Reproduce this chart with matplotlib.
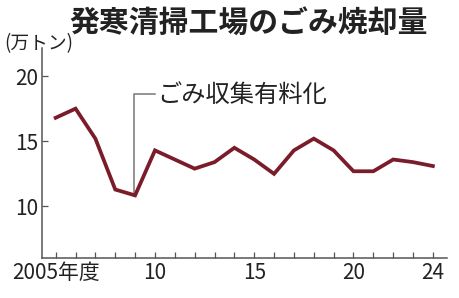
import matplotlib
matplotlib.use("Agg")
import matplotlib.pyplot as plt

plt.rcParams['font.family'] = ['Noto Sans CJK JP', 'DejaVu Sans']

# データ（万トン）
years = list(range(2005, 2025))
amounts = [16.8, 17.5, 15.2, 11.3, 10.85, 14.3, 13.6, 12.9, 13.4, 14.5,
           13.6, 12.5, 14.3, 15.2, 14.3, 12.7, 12.7, 13.6, 13.4, 13.1]
tick_years = [2005, 2010, 2015, 2020, 2024]
tick_labels = ['2005年度', '10', '15', '20', '24']
y_ticks = [10, 15, 20]
event_year = 2009
event_label = 'ごみ収集有料化'

fig = plt.figure(figsize=(4.6, 2.98), dpi=100)
ax = fig.add_axes([0.0913, 0.1342, 0.8804, 0.7048])

ax.plot(years, amounts, color='#7b1c2a', lw=2.7, solid_joinstyle='miter', zorder=3)

ax.set_xlim(2004.31, 2024.71)
ax.set_ylim(6.05, 22.15)

for s in ['top', 'right']:
    ax.spines[s].set_visible(False)
for s in ['left', 'bottom']:
    ax.spines[s].set_color('#555555')
    ax.spines[s].set_linewidth(1.1)

ax.set_xticks(years, minor=True)
ax.set_xticks(tick_years)
ax.set_xticklabels(tick_labels)
ax.set_yticks(y_ticks)
ax.tick_params(which='both', direction='in', length=4.5, width=0.9,
               color='#555555', labelsize=15, labelcolor='#222222')
ax.tick_params(axis='x', pad=3)
ax.tick_params(axis='y', pad=3)

# 注記
ev_val = amounts[years.index(event_year)]
ax.plot([event_year - 0.08, event_year - 0.08, event_year + 1.0],
        [ev_val, 18.6, 18.6], color='#777777', lw=1.1, zorder=2)
ax.text(event_year + 1.1, 18.55, event_label, fontsize=17.5,
        color='#222222', ha='left', va='center')

fig.text(0.54, 0.925, '発寒清掃工場のごみ焼却量', fontsize=21.5, fontweight='bold',
         ha='center', va='center', color='#222222')
fig.text(0.01, 0.855, '(万トン)', fontsize=13.5, ha='left', va='center', color='#222222')

fig.savefig('out.png', dpi=100)
